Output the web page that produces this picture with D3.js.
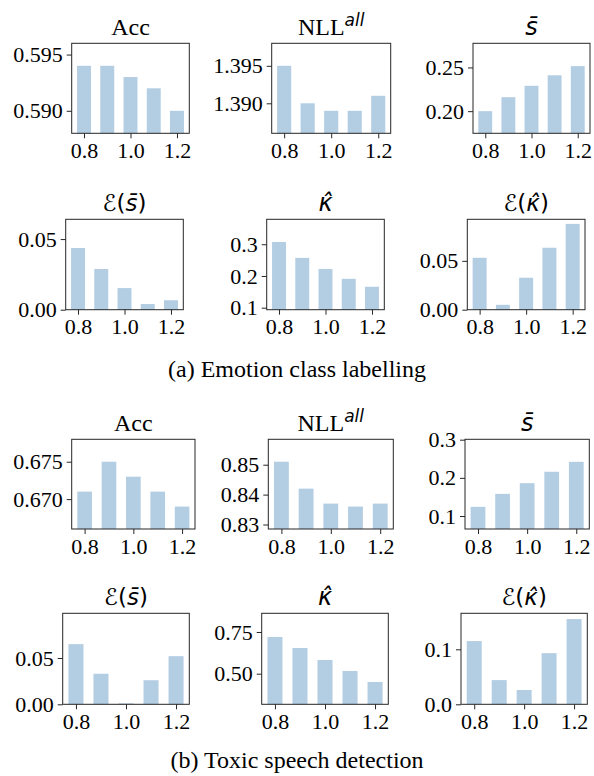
<!DOCTYPE html>
<html>
<head>
<meta charset="utf-8">
<script src="https://cdn.jsdelivr.net/npm/d3@7"></script>
<style>
  body { margin: 0; background: #fff; }
  text { fill: #000; }
</style>
</head>
<body>
<div id="chart"></div>
<script>
// x values (temperature-like setting) shared by every panel
const xValues = [0.8, 0.9, 1.0, 1.1, 1.2];
const xTicks = [0.8, 1.0, 1.2];

// (a) Emotion class labelling
const accA = [0.594, 0.594, 0.593, 0.592, 0.590];
const nllA = [1.395, 1.390, 1.389, 1.389, 1.391];
const sbarA = [0.200, 0.216, 0.229, 0.241, 0.2515];
const eSbarA = [0.0437, 0.0288, 0.0153, 0.0040, 0.0067];
const kappaA = [0.307, 0.257, 0.222, 0.191, 0.166];
const eKappaA = [0.0531, 0.0050, 0.0327, 0.0634, 0.0878];

// (b) Toxic speech detection
const accB = [0.671, 0.675, 0.673, 0.671, 0.669];
const nllB = [0.851, 0.842, 0.837, 0.836, 0.837];
const sbarB = [0.124, 0.158, 0.186, 0.216, 0.242];
const eSbarB = [0.065, 0.033, 0.001, 0.026, 0.052];
const kappaB = [0.720, 0.654, 0.582, 0.516, 0.450];
const eKappaB = [0.115, 0.044, 0.026, 0.093, 0.155];

// y limits and tick labels per panel
const yDomains = [
  [0.588, 0.596], [1.386, 1.398], [0.1747, 0.2776],
  [0, 0.064], [0.0937, 0.3786], [0, 0.0925],
  [0.666, 0.678], [0.8285, 0.8585], [0.066, 0.301],
  [0, 0.0983], [0.3165, 0.862], [0, 0.1655]
];
const yTicks = [
  [0.590, 0.595], [1.390, 1.395], [0.20, 0.25],
  [0, 0.05], [0.1, 0.2, 0.3], [0, 0.05],
  [0.670, 0.675], [0.83, 0.84, 0.85], [0.1, 0.2, 0.3],
  [0, 0.05], [0.50, 0.75], [0, 0.1]
];
const yFormats = ['.3f', '.3f', '.2f', '.2f', '.1f', '.2f', '.3f', '.2f', '.1f', '.2f', '.2f', '.1f'];
const series = [accA, nllA, sbarA, eSbarA, kappaA, eKappaA, accB, nllB, sbarB, eSbarB, kappaB, eKappaB];
const titleKinds = ['acc', 'nll', 'sbar', 'esbar', 'kappa', 'ekappa',
                    'acc', 'nll', 'sbar', 'esbar', 'kappa', 'ekappa'];
const captions = ['(a) Emotion class labelling', '(b) Toxic speech detection'];

// layout of the axes boxes (tight-layout like)
const rowBox = [[43.3, 133.3], [219.3, 309.7], [439.3, 529], [613.3, 704.3]];
const colBox = [
  [71.7, 189.3], [271.7, 390.7], [473, 590],
  [65.7, 183.3], [266.7, 384.3], [467.3, 585],
  [71.7, 195], [268.3, 393.3], [465, 589.3],
  [62.7, 189.3], [261.7, 388.3], [461, 587.3]
];

const width = 594, height = 776;
const barColor = '#b3cde3';
const spineColor = '#262626';
const serif = '"Liberation Serif", "Times New Roman", serif';
const sans = '"DejaVu Sans", sans-serif';

const svg = d3.select('#chart').append('svg')
  .attr('width', width)
  .attr('height', height);

function drawTitle(g, kind, cx, y) {
  const t = g.append('text')
    .attr('x', cx)
    .attr('y', y)
    .attr('text-anchor', 'middle')
    .attr('font-size', 24);
  if (kind === 'acc') {
    t.append('tspan').attr('font-family', serif).text('Acc');
  } else if (kind === 'nll') {
    t.append('tspan').attr('font-family', serif).text('NLL');
    t.append('tspan').attr('font-family', sans).attr('font-style', 'italic')
      .attr('font-size', 17).attr('dy', -9).text('all');
  } else if (kind === 'sbar') {
    t.append('tspan').attr('font-family', sans).attr('font-style', 'italic').text('s\u0304');
  } else if (kind === 'esbar') {
    t.attr('font-family', sans).attr('font-size', 23);
    t.append('tspan').text('\u2130(');
    t.append('tspan').attr('font-style', 'italic').text('s\u0304');
    t.append('tspan').text(')');
  } else if (kind === 'kappa') {
    t.append('tspan').attr('font-family', sans).attr('font-style', 'italic').text('\u03ba\u0302');
  } else if (kind === 'ekappa') {
    t.attr('font-family', sans).attr('font-size', 23);
    t.append('tspan').text('\u2130(');
    t.append('tspan').attr('font-style', 'italic').text('\u03ba\u0302');
    t.append('tspan').text(')');
  }
}

series.forEach((values, i) => {
  const row = Math.floor(i / 3);
  const [top, bottom] = rowBox[row];
  const [left, right] = colBox[i];

  const x = d3.scaleLinear().domain([0.747, 1.253]).range([left, right]);
  const y = d3.scaleLinear().domain(yDomains[i]).range([bottom, top]);
  const barW = x(0.86) - x(0.8);

  const g = svg.append('g');

  // bars
  g.selectAll('rect.bar')
    .data(values)
    .enter()
    .append('rect')
    .attr('class', 'bar')
    .attr('x', (d, j) => x(xValues[j]) - barW / 2)
    .attr('width', barW)
    .attr('y', d => y(d))
    .attr('height', d => y(yDomains[i][0]) - y(d))
    .attr('fill', barColor);

  // frame
  g.append('rect')
    .attr('x', left)
    .attr('y', top)
    .attr('width', right - left)
    .attr('height', bottom - top)
    .attr('fill', 'none')
    .attr('stroke', spineColor)
    .attr('stroke-width', 1);

  // x axis
  const xAxis = g.append('g')
    .attr('transform', `translate(0,${bottom})`)
    .call(d3.axisBottom(x).tickValues(xTicks).tickFormat(d3.format('.1f'))
      .tickSize(5).tickPadding(4));
  // y axis
  const yAxis = g.append('g')
    .attr('transform', `translate(${left},0)`)
    .call(d3.axisLeft(y).tickValues(yTicks[i]).tickFormat(d3.format(yFormats[i]))
      .tickSize(5).tickPadding(4));

  [xAxis, yAxis].forEach(ax => {
    ax.select('.domain').remove();
    ax.selectAll('line').attr('stroke', spineColor).attr('stroke-width', 1);
    ax.selectAll('text')
      .attr('font-family', serif)
      .attr('font-size', 22)
      .attr('fill', '#000');
  });

  drawTitle(g, titleKinds[i], (left + right) / 2, top - 8);
});

// sub-figure captions
svg.selectAll('text.caption')
  .data(captions)
  .enter()
  .append('text')
  .attr('class', 'caption')
  .attr('x', width / 2)
  .attr('y', (d, i) => i === 0 ? 377 : 768)
  .attr('text-anchor', 'middle')
  .attr('font-family', serif)
  .attr('font-size', 24)
  .text(d => d);
</script>
</body>
</html>
